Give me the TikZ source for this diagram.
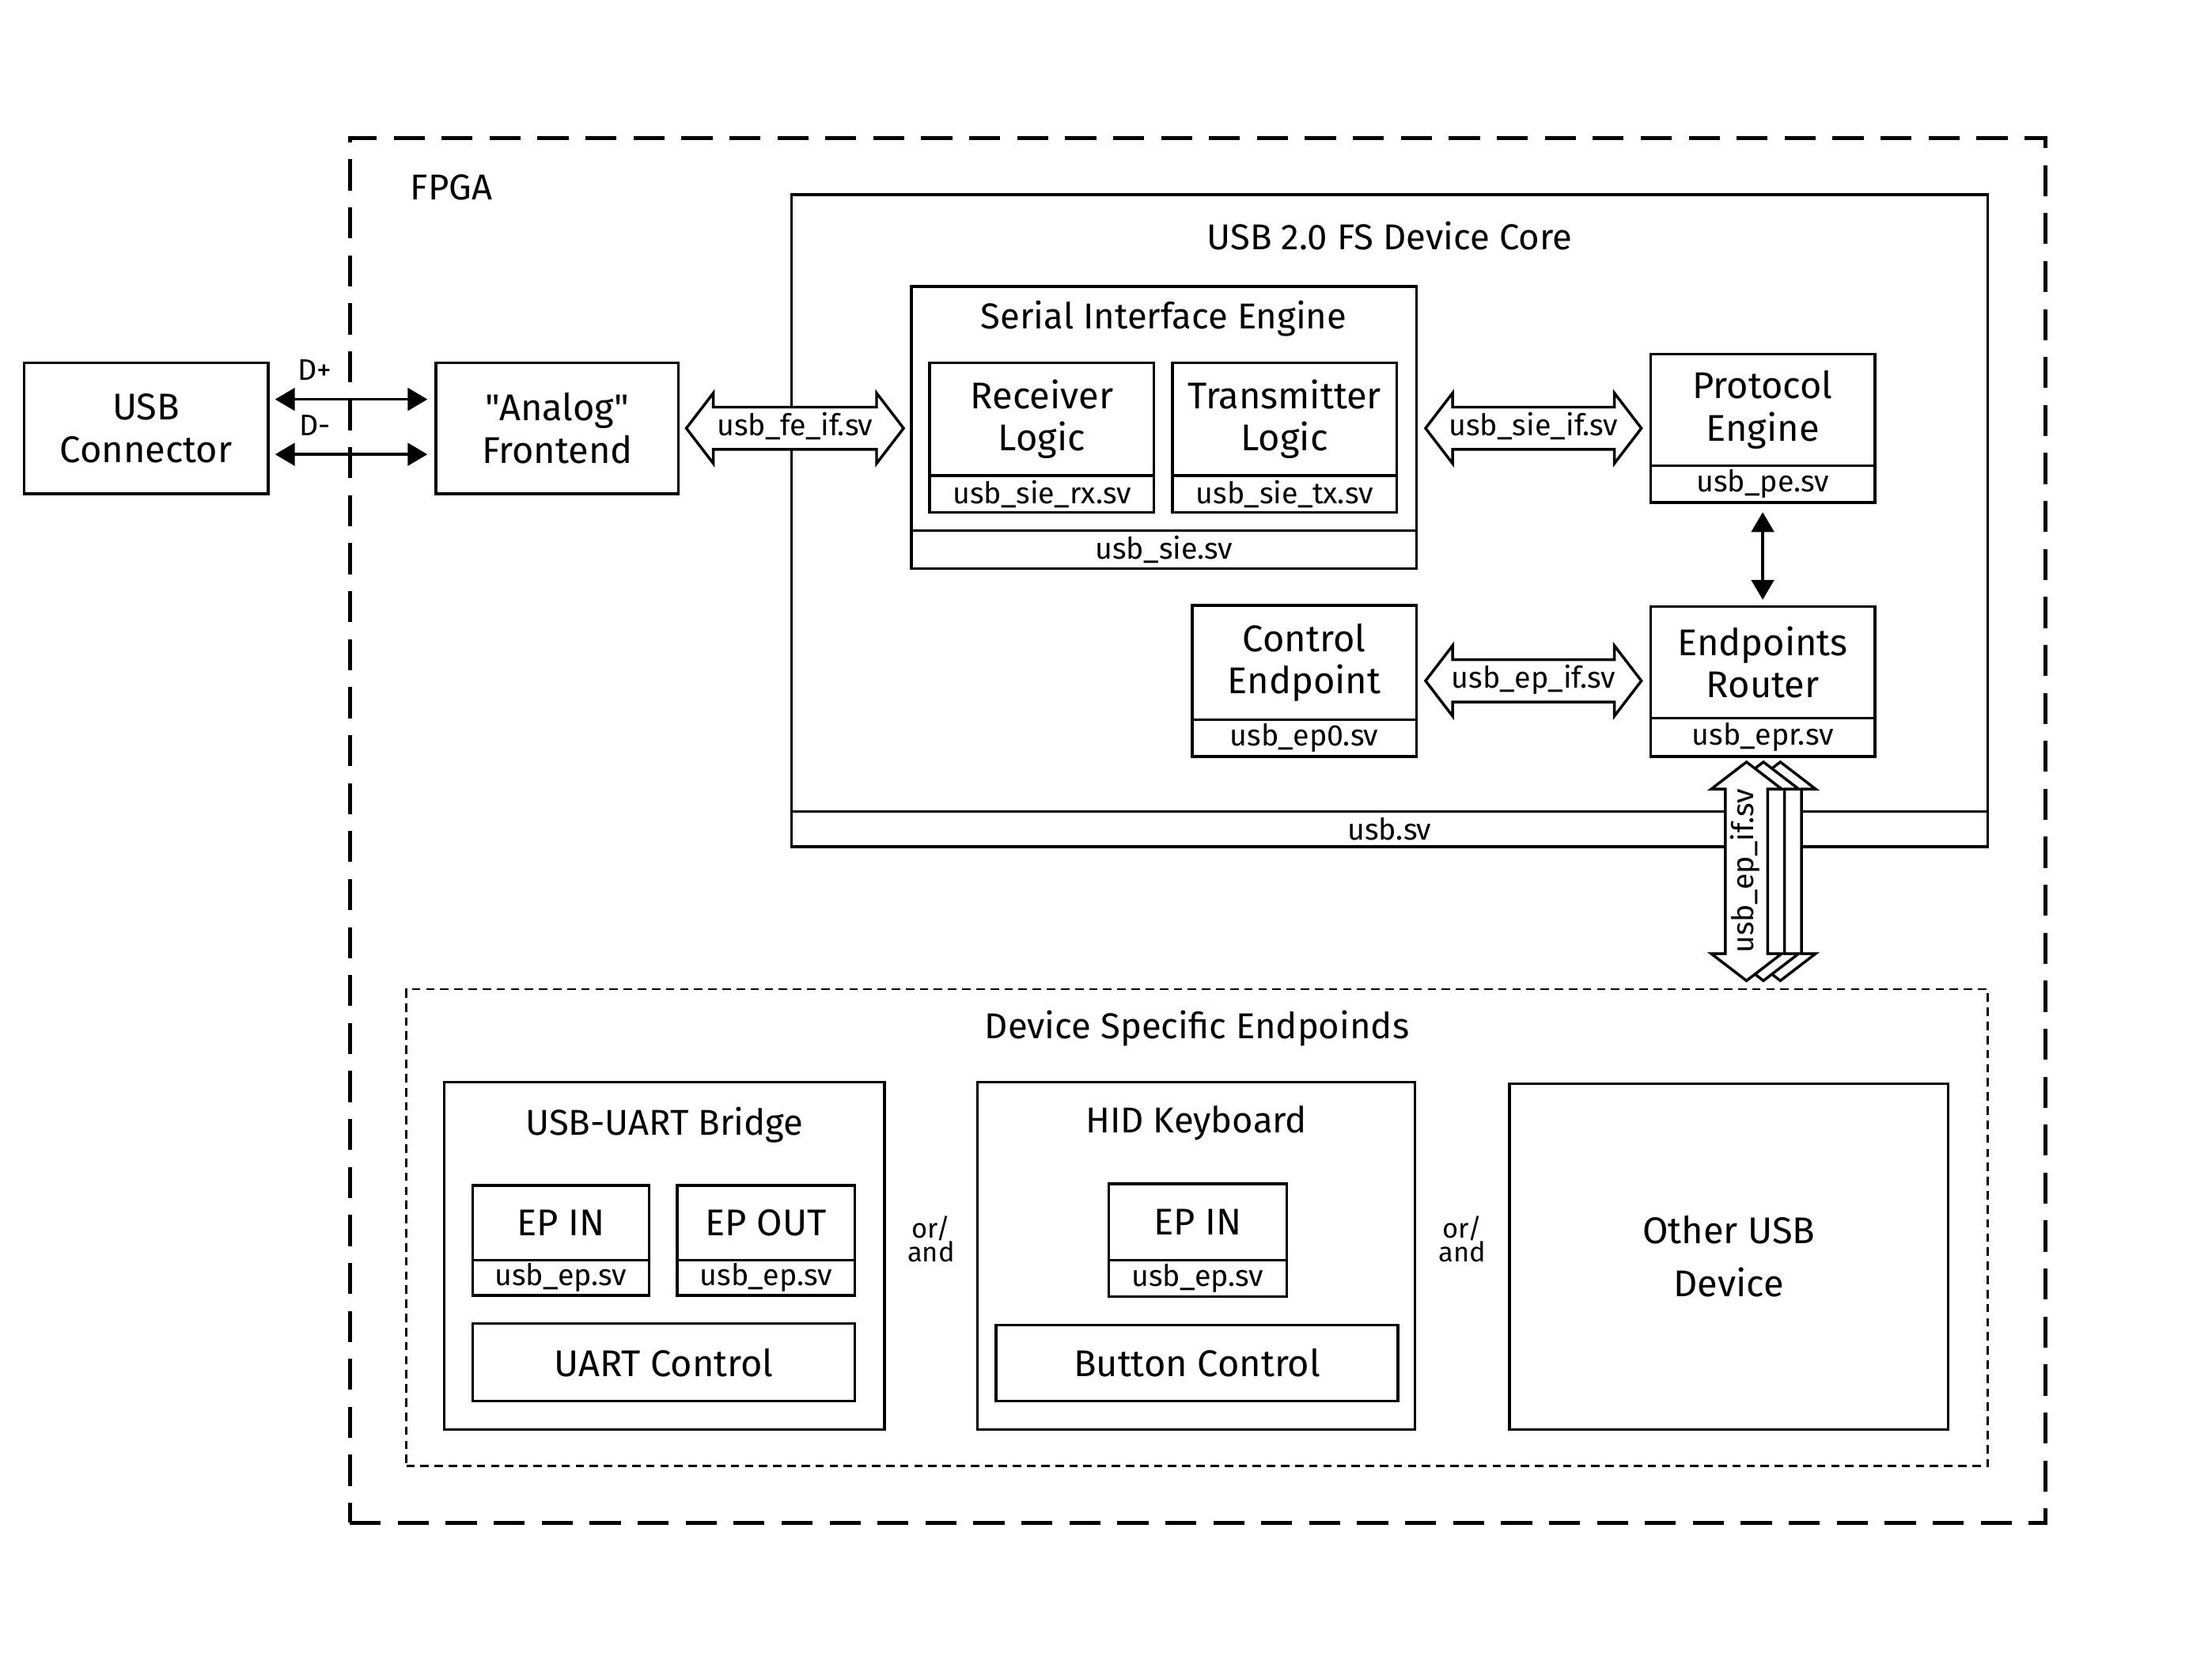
\documentclass[tikz,border=0pt]{standalone}
\usepackage{fontspec}
\setmainfont{Fira Sans}[Ligatures=TeXOff]
\usetikzlibrary{arrows.meta,positioning,shapes.arrows,calc}

\newcommand{\bigfont}{\fontsize{15}{17}\selectfont}
\newcommand{\midfont}{\fontsize{14.5}{16}\selectfont}
\newcommand{\smallfont}{\fontsize{12}{14}\selectfont}

\begin{document}
\begin{tikzpicture}[
    line width=1.1pt,
    block/.style={rectangle, draw, minimum width=3.18cm, minimum height=1.6cm, inner sep=0pt, outer sep=0pt, align=center, font=\bigfont},
    filebox/.style={rectangle, draw, anchor=north, minimum width=3.18cm, minimum height=0.52cm, inner sep=0pt, outer sep=0pt, font=\smallfont},
    group/.style={rectangle, draw, inner sep=0pt, outer sep=0pt},
    title/.style={font=\midfont},
    fatarrow/.style={double arrow, draw, fill=white, minimum height=3.06cm, double arrow head extend=0.2cm, double arrow tip angle=105, inner xsep=1pt, inner ysep=0.5mm, text height=3.3mm, text depth=1.3mm, font=\smallfont},
    biarrow/.style={{Triangle[length=2.8mm,width=3.2mm]}-{Triangle[length=2.8mm,width=3.2mm]}},
    note/.style={font=\smallfont}
]
\useasboundingbox (0,0) rectangle (31.36,23.54);

% FPGA outline
\node[group, dash pattern=on 4.4mm off 2.4mm, line width=1.6pt, minimum width=24.04cm, minimum height=19.62cm] (fpga) at (16.98,11.77) {};
\node[title] (fpgalbl) at (6.40,20.88) {FPGA};

% connector and frontend
\node[block, minimum width=3.46cm, minimum height=1.86cm] (con) at (2.07,17.47) {USB\\Connector};
\node[block, minimum width=3.44cm, minimum height=1.86cm] (afe) at (7.90,17.47) {"Analog"\\Frontend};
\draw[biarrow, shorten <=1mm, shorten >=1.2mm] ([yshift=0.41cm]con.east) -- node[note, pos=0.28, above=1.3mm] {D+} ([yshift=0.41cm]afe.west);
\draw[biarrow, shorten <=1mm, shorten >=1.2mm] ([yshift=-0.37cm]con.east) -- node[note, pos=0.28, above=1.3mm] {D-} ([yshift=-0.37cm]afe.west);

% device core
\node[group, minimum width=16.96cm, minimum height=8.74cm] (core) at (19.70,16.41) {};
\node[filebox, minimum width=16.96cm, minimum height=0.50cm] (corefile) at (core.south) {usb.sv};
\node[title] at ([yshift=-0.58cm]core.north) {USB 2.0 FS Device Core};

% serial interface engine
\node[group, minimum width=7.16cm, minimum height=3.46cm] (sie) at (16.50,17.75) {};
\node[filebox, minimum width=7.16cm, minimum height=0.54cm] (siefile) at (sie.south) {usb\_sie.sv};
\node[title] at ([yshift=-0.46cm]sie.north) {Serial Interface Engine};
\node[block] (rx) at (14.77,17.60) {Receiver\\Logic};
\node[filebox] (rxfile) at (rx.south) {usb\_sie\_rx.sv};
\node[block, right=0.26cm of rx] (tx) {Transmitter\\Logic};
\node[filebox] (txfile) at (tx.south) {usb\_sie\_tx.sv};

% protocol engine and endpoints
\node[block, minimum height=1.58cm] (pe) at (24.99,17.73) {Protocol\\Engine};
\node[filebox] (pefile) at (pe.south) {usb\_pe.sv};
\node[block, minimum height=1.58cm] (er) at (24.99,14.15) {Endpoints\\Router};
\node[filebox, minimum height=0.54cm] (erfile) at (er.south) {usb\_epr.sv};
\node[block, minimum height=1.62cm] (ce) at (18.49,14.15) {Control\\Endpoint};
\node[filebox] (cefile) at (ce.south) {usb\_ep0.sv};
\draw[biarrow, shorten <=1.4mm, shorten >=1mm] (pefile.south) -- (er.north);

% interface arrows
\node[fatarrow, minimum height=3.08cm] (feif) at ($(afe.east)!0.5!(afe.east -| sie.west)$) {usb\_fe\_if.sv};
\node[fatarrow] (sieif) at ($(afe.east -| sie.east)!0.5!(afe.east -| pe.west)$) {usb\_sie\_if.sv};
\coordinate (cemid) at ($(ce.north)!0.5!(cefile.south)$);
\node[fatarrow] (epif) at ($(cemid -| ce.east)!0.5!(cemid -| er.west)$) {usb\_ep\_if.sv};

% endpoint interfaces to the application
\node[fatarrow, rotate=90, minimum height=3.10cm] (epifc) at ([xshift=0.25cm, yshift=-1.63cm]erfile.south) {};
\node[fatarrow, rotate=90, minimum height=3.10cm] (epifb) at ([xshift=0.01cm, yshift=-1.63cm]erfile.south) {};
\node[fatarrow, rotate=90, minimum height=3.10cm] (epifa) at ([xshift=-0.23cm, yshift=-1.63cm]erfile.south) {usb\_ep\_if.sv};

% device specific endpoints
\node[group, dash pattern=on 1.2mm off 0.8mm, line width=0.8pt, minimum width=22.42cm, minimum height=6.76cm] (dse) at (16.97,6.14) {};
\node[title] at ([yshift=-0.56cm]dse.north) {Device Specific Endpoinds};

\node[group, minimum width=6.24cm, minimum height=4.92cm] (uart) at (9.42,5.74) {};
\node[title] at ([yshift=-0.60cm]uart.north) {USB-UART Bridge};
\node[block, minimum width=2.50cm, minimum height=1.06cm] (uartin) at (7.95,6.21) {EP IN};
\node[filebox, minimum width=2.50cm, minimum height=0.50cm] (uartinfile) at (uartin.south) {usb\_ep.sv};
\node[block, minimum width=2.52cm, minimum height=1.06cm] (uartout) at (10.86,6.21) {EP OUT};
\node[filebox, minimum width=2.52cm, minimum height=0.50cm] (uartoutfile) at (uartout.south) {usb\_ep.sv};
\node[block, minimum width=5.42cm, minimum height=1.10cm] (uartctl) at (9.41,4.23) {UART Control};

\node[group, minimum width=6.20cm, minimum height=4.92cm] (hid) at (16.96,5.74) {};
\node[title] at ([yshift=-0.58cm]hid.north) {HID Keyboard};
\node[block, minimum width=2.52cm, minimum height=1.08cm] (hidin) at (16.98,6.22) {EP IN};
\node[filebox, minimum width=2.52cm, minimum height=0.52cm] (hidinfile) at (hidin.south) {usb\_ep.sv};
\node[block, minimum width=5.70cm, minimum height=1.08cm] (hidbtn) at (16.97,4.22) {Button Control};

\node[block, minimum width=6.22cm, minimum height=4.90cm] (other) at (24.51,5.73) {Other USB\\[1.6mm]Device};

\node[align=center, font=\fontsize{11}{9.6}\selectfont] (or1) at ([yshift=0.24cm]$(uart.east)!0.5!(hid.west)$) {or/\\and};
\node[align=center, font=\fontsize{11}{9.6}\selectfont] (or2) at ([yshift=0.24cm]$(hid.east)!0.5!(other.west)$) {or/\\and};
\end{tikzpicture}
\end{document}
